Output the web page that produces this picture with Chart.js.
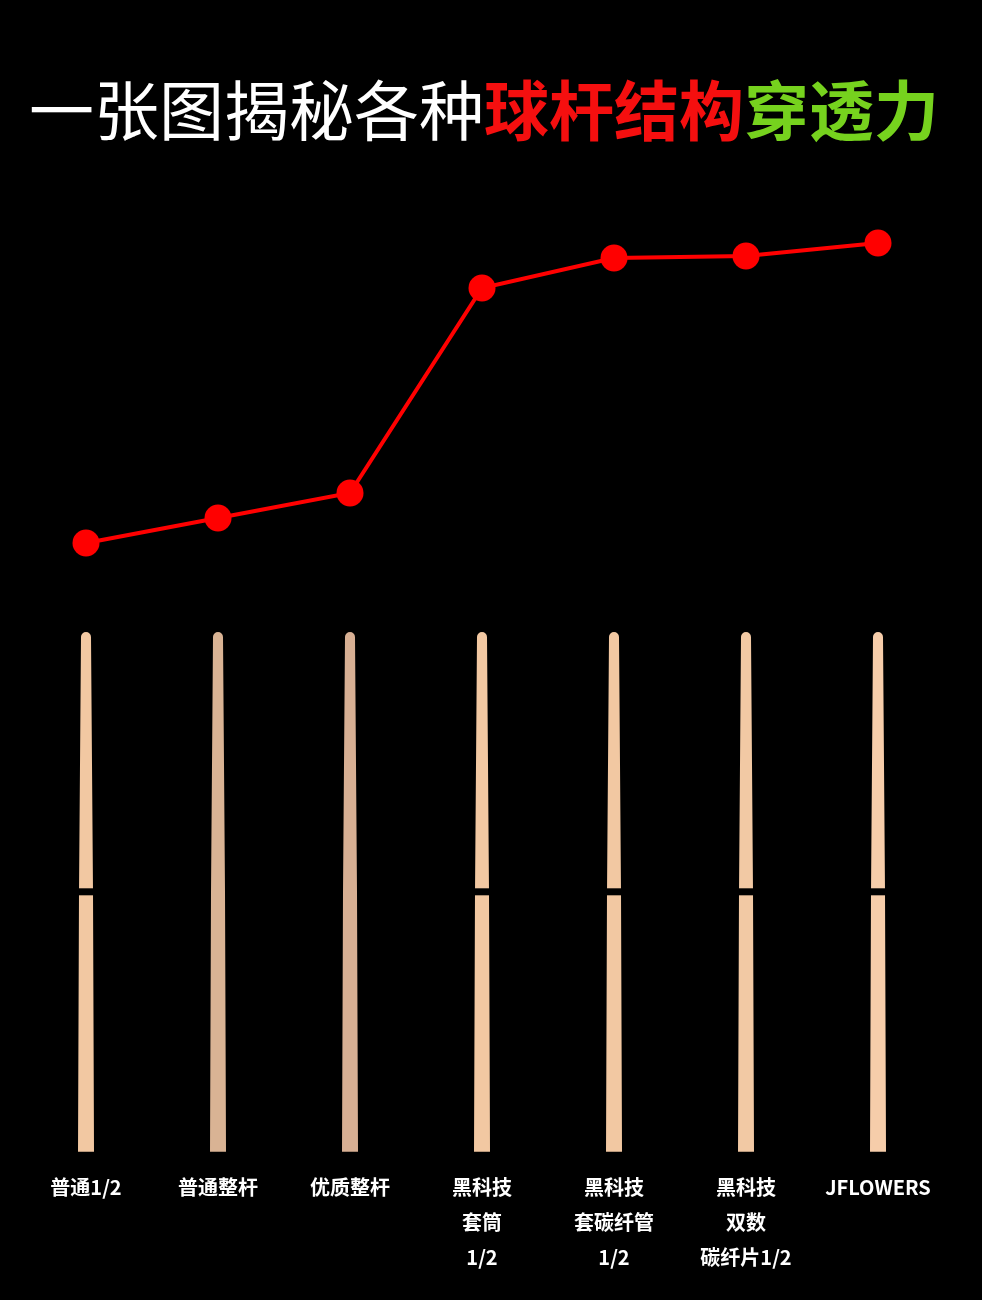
<!DOCTYPE html>
<html>
<head>
<meta charset="utf-8">
<script src="https://cdn.jsdelivr.net/npm/chart.js@4.4.1/dist/chart.umd.min.js"></script>
<style>
  html, body { margin: 0; padding: 0; background: #000; }
  #wrap { width: 982px; height: 1300px; }
</style>
</head>
<body>
<div id="wrap"><canvas id="cueChart" width="982" height="1300"></canvas></div>
<script>
// 数据
const categories = [
    ['普通1/2'],
    ['普通整杆'],
    ['优质整杆'],
    ['黑科技', '套筒', '1/2'],
    ['黑科技', '套碳纤管', '1/2'],
    ['黑科技', '双数', '碳纤片1/2'],
    ['JFLOWERS']
];
const penetration = [20, 25, 30, 71, 77, 77.4, 80];
const cueLength = [100, 100, 100, 100, 100, 100, 100];
const jointAt = [50, null, null, 50, 50, 50, 50];
const cueColors = ['#F2C8A2', '#D9B394', '#D7AF93', '#F2C8A2', '#F2C8A2', '#F2C9A4', '#F6CDAA'];

const titleParts = [
    { text: '一张图揭秘各种', color: '#FFFFFF', weight: '400' },
    { text: '球杆结构', color: '#F50F0F', weight: '700' },
    { text: '穿透力', color: '#76D21E', weight: '700' }
];

// 标题插件 (多色)
const titlePlugin = {
    id: 'multiTitle',
    afterDraw(chart) {
        const ctx = chart.ctx;
        ctx.save();
        ctx.textBaseline = 'middle';
        ctx.textAlign = 'left';
        let total = 0;
        titleParts.forEach(p => {
            ctx.font = p.weight + ' 65px "Noto Sans CJK SC"';
            p.w = ctx.measureText(p.text).width;
            total += p.w;
        });
        let x = 484 - total / 2;
        titleParts.forEach(p => {
            ctx.font = p.weight + ' 65px "Noto Sans CJK SC"';
            ctx.fillStyle = p.color;
            ctx.fillText(p.text, x, 110);
            x += p.w;
        });
        ctx.restore();
    }
};

// 球杆插件: 用柱子的位置画锥形球杆
const cuePlugin = {
    id: 'cueShape',
    afterDatasetsDraw(chart) {
        const meta = chart.getDatasetMeta(1);
        const ys = chart.scales.ys;
        const ctx = chart.ctx;
        ctx.save();
        meta.data.forEach((bar, i) => {
            const { x, y, base } = bar.getProps(['x', 'y', 'base'], true);
            const top = Math.min(y, base);
            const bottom = Math.max(y, base);
            const jy = ys.getPixelForValue(50);
            const wTop = 10, wMid = 14, wBot = 16;
            const r = wTop / 2;
            ctx.fillStyle = cueColors[i];
            ctx.beginPath();
            ctx.moveTo(x - r, top + r);
            ctx.arc(x, top + r, r, Math.PI, 0);
            ctx.lineTo(x + wMid / 2, jy);
            ctx.lineTo(x + wBot / 2, bottom);
            ctx.lineTo(x - wBot / 2, bottom);
            ctx.lineTo(x - wMid / 2, jy);
            ctx.closePath();
            ctx.fill();
            if (jointAt[i] !== null) {
                const jp = ys.getPixelForValue(jointAt[i]);
                ctx.fillStyle = '#000';
                ctx.fillRect(x - 10, jp - 3.5, 20, 7);
            }
        });
        ctx.restore();
    }
};

const ctx = document.getElementById('cueChart').getContext('2d');
new Chart(ctx, {
    data: {
        labels: categories,
        datasets: [
            {
                type: 'line',
                label: '穿透力',
                data: penetration,
                yAxisID: 'y',
                borderColor: '#FF0000',
                borderWidth: 4,
                pointBackgroundColor: '#FF0000',
                pointBorderWidth: 0,
                pointRadius: 13.5,
                tension: 0,
                order: 0
            },
            {
                type: 'bar',
                label: '球杆',
                data: cueLength.map(v => [0, v]),
                yAxisID: 'ys',
                backgroundColor: 'rgba(0,0,0,0)',
                barThickness: 16,
                order: 1
            }
        ]
    },
    options: {
        responsive: false,
        animation: false,
        layout: { padding: { left: 20, right: 38, top: 200, bottom: 15 } },
        plugins: {
            legend: { display: false },
            tooltip: { enabled: false }
        },
        scales: {
            x: {
                offset: true,
                grid: { display: false, drawTicks: false },
                border: { display: false },
                ticks: {
                    color: '#FFFFFF',
                    padding: 10,
                    maxRotation: 0,
                    autoSkip: false,
                    font: { family: '"Noto Sans CJK SC"', size: 20, weight: 'bold', lineHeight: 1.75 }
                }
            },
            y: { display: false, min: -103.4, max: 88.6 },
            ys: { display: false, min: -1.6, max: 183.1 }
        }
    },
    plugins: [titlePlugin, cuePlugin]
});
</script>
</body>
</html>
